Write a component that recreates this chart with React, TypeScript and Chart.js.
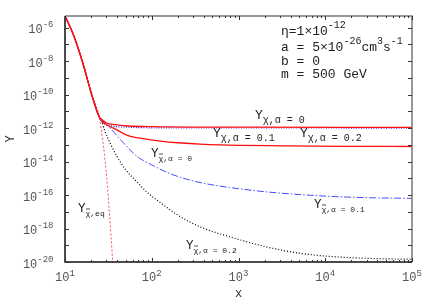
import React, { useEffect, useRef } from "react";
import { Chart, registerables } from "chart.js";

Chart.register(...registerables);

const FONT = "'Liberation Mono', 'DejaVu Sans Mono', monospace";

// Shared path before freeze-out (all curves coincide with equilibrium)
const preX = [10, 12.3, 15.8, 20.3, 24.8];
const preY = [4.9e-6, 4.6e-7, 1.0e-8, 1.0e-10, 4.6e-12];

// Y_chibar,eq (equilibrium) tail
const eqX = [27.5, 30.3, 32.4, 33.9, 35.5, 36.2];
const eqY = [1.26e-13, 1.0e-15, 1.0e-17, 3.5e-19, 1.0e-20, 3.0e-21];

// Y_chi, alpha = 0 (red, upper)
const chiA0X = [26.5, 30.2, 37.7, 53.7, 100, 1000, 100000];
const chiA0Y = [3.3e-12, 2.0e-12, 1.58e-12, 1.32e-12, 1.2e-12, 1.12e-12, 1.1e-12];

// Y_chi, alpha = 0.1 (blue dotted)
const chiA1X = [26.5, 33.9, 53.7, 158, 100000];
const chiA1Y = [2.4e-12, 1.38e-12, 1.12e-12, 1.02e-12, 1.0e-12];

// Y_chi, alpha = 0.2 (red, lower)
const chiA2X = [26.5, 28.9, 37.7, 53.7, 79.4, 126, 200, 398, 1000, 3162, 15850, 100000];
const chiA2Y = [2.8e-12, 1.78e-12, 8.9e-13, 3.5e-13, 2.3e-13, 1.66e-13, 1.32e-13, 1.07e-13, 9.3e-14, 8.7e-14, 8.1e-14, 7.9e-14];

// Y_chibar, alpha = 0.1 (blue dash-dot)
const barA1X = [26.5, 31.6, 37.7, 44.7, 53.7, 70, 100, 158, 251, 398, 794, 2000, 5000, 12600, 31600, 100000];
const barA1Y = [3.0e-12, 1.26e-12, 4.8e-13, 1.78e-13, 6.3e-14, 1.78e-14, 6.3e-15, 2.0e-15, 8.9e-16, 5.0e-16, 2.8e-16, 1.58e-16, 1.07e-16, 8.1e-17, 6.9e-17, 6.3e-17];

// Y_chibar, alpha = 0.2 (black dotted)
const barA2X = [26.5, 28.9, 33.1, 39.8, 50.1, 67, 89, 126, 200, 360, 865, 2110, 5120, 12300, 30200, 100000];
const barA2Y = [2.5e-12, 6.3e-13, 1.26e-13, 2.0e-14, 3.2e-15, 6.3e-16, 1.41e-16, 3.5e-17, 6.3e-18, 1.26e-18, 2.8e-19, 7.9e-20, 3.3e-20, 2.1e-20, 1.66e-20, 1.45e-20];

// Axis ticks
const xMajorTicks = [10, 100, 1000, 10000, 100000];
const xTickExp = ["1", "2", "3", "4", "5"];
const xMinorMult = [2, 3, 4, 5, 6, 7, 8, 9];
const yExps = [-20, -19, -18, -17, -16, -15, -14, -13, -12, -11, -10, -9, -8, -7, -6];
const yLabelExps = [-20, -18, -16, -14, -12, -10, -8, -6];

const xTitle = "x";
const yTitle = "Y";

const infoLines = [
  [["η=1×10", 0], ["-12", 1]],
  [["a = 5×10", 0], ["-26", 1], ["cm", 0], ["3", 1], ["s", 0], ["-1", 1]],
  [["b = 0", 0]],
  [["m = 500 GeV", 0]],
];

const curveLabels = [
  { sub: "χ,α = 0", x: 255, y: 118.5, small: false, bar: false },
  { sub: "χ,α = 0.1", x: 213, y: 136.5, small: false, bar: false },
  { sub: "χ,α = 0.2", x: 300, y: 136.5, small: false, bar: false },
  { sub: "χ,α = 0", x: 151, y: 156.5, small: true, bar: true },
  { sub: "χ,α = 0.1", x: 314, y: 207.5, small: true, bar: true },
  { sub: "χ,α = 0.2", x: 186, y: 248.5, small: true, bar: true },
  { sub: "χ,eq", x: 78, y: 211.5, small: true, bar: true },
];

function series(xs: number[], ys: number[], withPre = true) {
  const out: { x: number; y: number }[] = [];
  if (withPre) preX.forEach((x, i) => out.push({ x, y: preY[i] }));
  xs.forEach((x, i) => out.push({ x, y: ys[i] }));
  return out;
}

type Part = [string, number, number];

function rich(ctx: CanvasRenderingContext2D, x: number, y: number, parts: Part[], align: "left" | "right" | "center") {
  const widths = parts.map(([t, s]) => {
    ctx.font = `${s}px ${FONT}`;
    return ctx.measureText(t).width;
  });
  const total = widths.reduce((a, b) => a + b, 0);
  let cur = align === "left" ? x : align === "right" ? x - total : x - total / 2;
  const starts: number[] = [];
  ctx.textAlign = "left";
  ctx.textBaseline = "alphabetic";
  parts.forEach(([t, s, dy], i) => {
    ctx.font = `${s}px ${FONT}`;
    starts.push(cur);
    ctx.fillText(t, cur, y + dy);
    cur += widths[i];
  });
  return starts;
}

const framePlugin = {
  id: "frameAndText",
  afterDraw(chart: any) {
    const ctx: CanvasRenderingContext2D = chart.ctx;
    const { left, right, top, bottom } = chart.chartArea;
    const xs = chart.scales.x;
    const ys = chart.scales.y;
    ctx.save();

    // frame
    ctx.lineWidth = 1.5;
    ctx.strokeStyle = "#777";
    ctx.beginPath();
    ctx.moveTo(left, top);
    ctx.lineTo(right, top);
    ctx.lineTo(right, bottom);
    ctx.stroke();
    ctx.strokeStyle = "#111";
    ctx.beginPath();
    ctx.moveTo(left, top);
    ctx.lineTo(left, bottom);
    ctx.lineTo(right, bottom);
    ctx.stroke();

    // ticks
    ctx.lineWidth = 1;
    ctx.strokeStyle = "#333";
    ctx.beginPath();
    yExps.forEach((e) => {
      const py = Math.round(ys.getPixelForValue(Math.pow(10, e))) + 0.5;
      ctx.moveTo(left, py);
      ctx.lineTo(left + 4, py);
      ctx.moveTo(right, py);
      ctx.lineTo(right - 4, py);
    });
    xMajorTicks.forEach((v, i) => {
      const px = Math.round(xs.getPixelForValue(v)) + 0.5;
      ctx.moveTo(px, bottom);
      ctx.lineTo(px, bottom - 4);
      ctx.moveTo(px, top);
      ctx.lineTo(px, top + 4);
      if (i < xMajorTicks.length - 1) {
        xMinorMult.forEach((m) => {
          const qx = Math.round(xs.getPixelForValue(v * m)) + 0.5;
          ctx.moveTo(qx, bottom);
          ctx.lineTo(qx, bottom - 2);
          ctx.moveTo(qx, top);
          ctx.lineTo(qx, top + 2);
        });
      }
    });
    ctx.stroke();

    // tick labels
    ctx.fillStyle = "#555";
    yLabelExps.forEach((e) => {
      const py = ys.getPixelForValue(Math.pow(10, e));
      rich(ctx, 53.5, py, [["10", 12, 5.5], [String(e), 9, -0.5]], "right");
    });
    xMajorTicks.forEach((v, i) => {
      const px = xs.getPixelForValue(v);
      rich(ctx, px, bottom, [["10", 12, 19], [xTickExp[i], 9, 14]], "center");
    });

    // axis titles
    ctx.fillStyle = "#333";
    ctx.font = `12px ${FONT}`;
    ctx.textAlign = "center";
    ctx.textBaseline = "alphabetic";
    ctx.fillText(xTitle, (left + right) / 2, 297);
    ctx.save();
    ctx.translate(13.5, 139);
    ctx.rotate(-Math.PI / 2);
    ctx.fillText(yTitle, 0, 0);
    ctx.restore();

    // info text
    ctx.fillStyle = "#222";
    const baselines = [35, 51, 65, 77.5];
    infoLines.forEach((line, i) => {
      const parts: Part[] = (line as any[]).map(([t, sup]) => (sup ? [t, 10, -7] : [t, 13, 0]) as Part);
      rich(ctx, 281, baselines[i], parts, "left");
    });

    // curve labels
    ctx.strokeStyle = "#222";
    ctx.lineWidth = 0.8;
    curveLabels.forEach((l) => {
      const parts: Part[] = l.small
        ? [["Y", 12.5, 0], [l.sub, 8, 4]]
        : [["Y", 13, 0], [l.sub, 10, 4.5]];
      ctx.fillStyle = "#222";
      const starts = rich(ctx, l.x, l.y, parts, "left");
      if (l.bar) {
        // macron over chi (chi-bar)
        const bx = starts[1];
        const by = l.y + 4 - 6.5;
        ctx.beginPath();
        ctx.moveTo(bx + 0.5, by);
        ctx.lineTo(bx + 4.5, by);
        ctx.stroke();
      }
    });

    ctx.restore();
  },
};

export default function App() {
  const ref = useRef<HTMLCanvasElement | null>(null);
  useEffect(() => {
    if (!ref.current) return;
    const common = { pointRadius: 0, fill: false, cubicInterpolationMode: "monotone" as const, clip: 0 };
    const chart = new Chart(ref.current, {
      type: "line",
      data: {
        datasets: [
          { ...common, label: "Y_chi a=0", data: series(chiA0X, chiA0Y), borderColor: "#ff1010", borderWidth: 1.3 },
          { ...common, label: "Y_chi a=0.2", data: series(chiA2X, chiA2Y), borderColor: "#ff1010", borderWidth: 1.3 },
          { ...common, label: "Y_chi a=0.1", data: series(chiA1X, chiA1Y), borderColor: "#2a2aff", borderWidth: 1.2, borderDash: [1, 1.5] },
          { ...common, label: "Y_chibar a=0.1", data: series(barA1X, barA1Y), borderColor: "#4a4aff", borderWidth: 1, borderDash: [7, 2, 1.5, 2] },
          { ...common, label: "Y_chibar a=0.2", data: series(barA2X, barA2Y), borderColor: "#000000", borderWidth: 1.2, borderDash: [1, 2] },
          { ...common, label: "Y_eq", data: series(eqX, eqY), borderColor: "#ff4d4d", borderWidth: 1, borderDash: [2, 2] },
        ],
      },
      options: {
        animation: false,
        responsive: false,
        devicePixelRatio: 1,
        layout: { padding: { left: 65, top: 16, right: 24, bottom: 43 } },
        plugins: { legend: { display: false }, tooltip: { enabled: false } },
        scales: {
          x: { type: "logarithmic", min: 10, max: 100000, display: false },
          y: { type: "logarithmic", min: 1e-20, max: 4.9e-6, display: false },
        },
      },
      plugins: [framePlugin],
    });
    return () => chart.destroy();
  }, []);
  return (
    <div style={{ position: "fixed", left: 0, top: 0, width: 436, height: 305, background: "#fff" }}>
      <canvas ref={ref} width={436} height={305} />
    </div>
  );
}
